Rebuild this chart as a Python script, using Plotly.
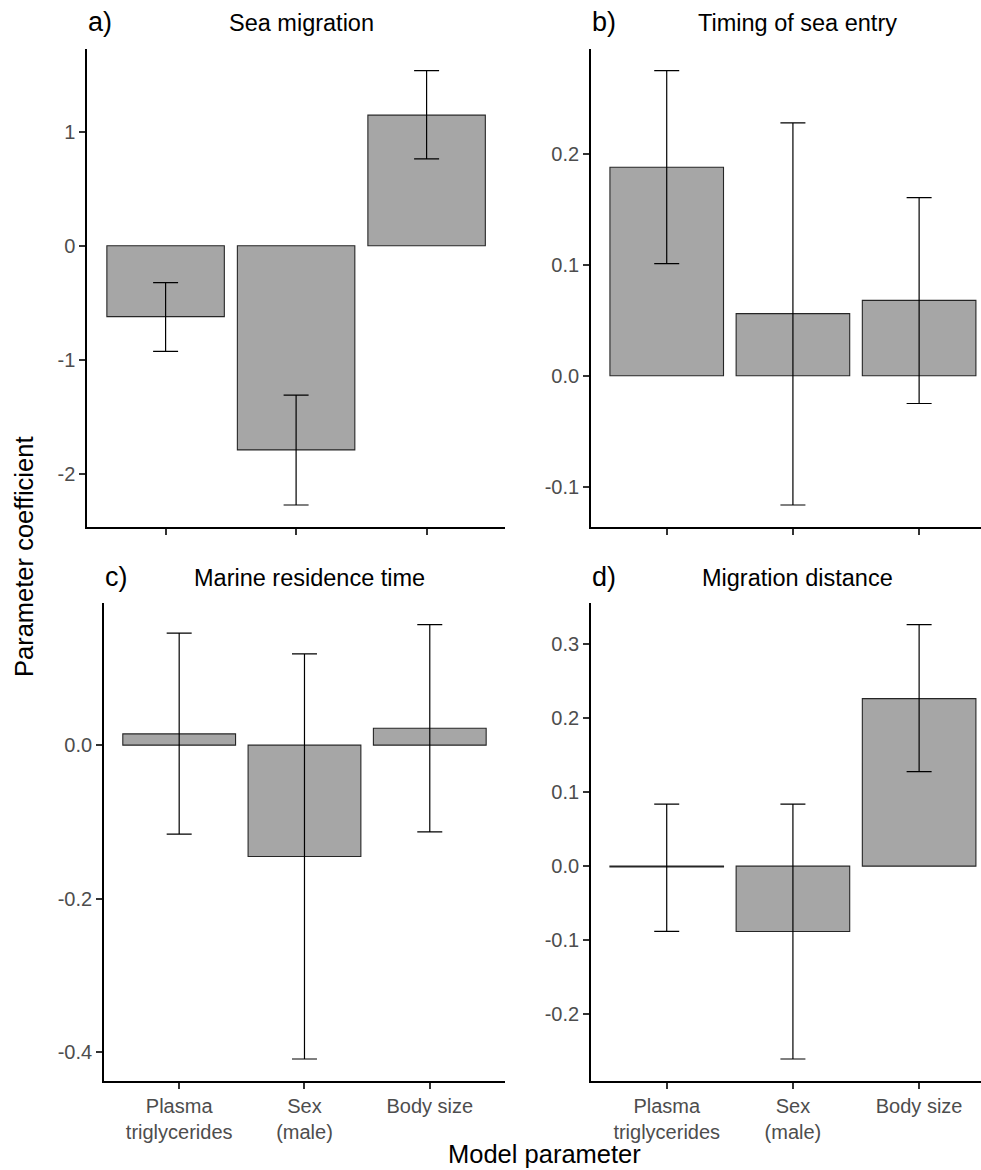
import plotly.graph_objects as go

# ---------------- data ----------------
params = ["Plasma<br>triglycerides", "Sex<br>(male)", "Body size"]

panel_tags = ["a)", "b)", "c)", "d)"]
panel_titles = ["Sea migration", "Timing of sea entry", "Marine residence time", "Migration distance"]

# a) Sea migration
a_est = [-0.620, -1.786, 1.143]
a_lo = [-0.923, -2.268, 0.760]
a_hi = [-0.323, -1.306, 1.532]

# b) Timing of sea entry
b_est = [0.188, 0.056, 0.068]
b_lo = [0.101, -0.1165, -0.025]
b_hi = [0.275, 0.228, 0.1605]

# c) Marine residence time
c_est = [0.0147, -0.145, 0.022]
c_lo = [-0.116, -0.409, -0.113]
c_hi = [0.146, 0.119, 0.157]

# d) Migration distance
d_est = [-0.001, -0.088, 0.226]
d_lo = [-0.088, -0.260, 0.1275]
d_hi = [0.0836, 0.0836, 0.3256]

a_ticks = [-2, -1, 0, 1]
a_ticktext = ["-2", "-1", "0", "1"]
b_ticks = [-0.1, 0.0, 0.1, 0.2]
b_ticktext = ["-0.1", "0.0", "0.1", "0.2"]
c_ticks = [-0.4, -0.2, 0.0]
c_ticktext = ["-0.4", "-0.2", "0.0"]
d_ticks = [-0.2, -0.1, 0.0, 0.1, 0.2, 0.3]
d_ticktext = ["-0.2", "-0.1", "0.0", "0.1", "0.2", "0.3"]

x_title = "Model parameter"
y_title = "Parameter coefficient"

# ---------------- layout geometry (pixels) ----------------
W, H = 981, 1170
FONT = "Liberation Sans, Arial, sans-serif"
BAR_FILL = "#A6A6A6"
BAR_LINE = "#262626"
TICK_TXT = "#4D4D4D"

# (left, right, top, bottom) px of each panel; right edge of b/d is cut at figure edge
panels_px = [
    (87.3, 505.0, 49.0, 526.7),
    (591.0, 981.0, 49.0, 526.7),
    (104.0, 505.0, 603.0, 1080.7),
    (591.0, 981.0, 603.0, 1080.7),
]
# category spacing in px for each panel (ggplot discrete axis: 0.6 expansion)
spacing_px = [130.5, 126.2, 125.3, 126.2]

series = [
    (a_est, a_lo, a_hi, a_ticks, a_ticktext),
    (b_est, b_lo, b_hi, b_ticks, b_ticktext),
    (c_est, c_lo, c_hi, c_ticks, c_ticktext),
    (d_est, d_lo, d_hi, d_ticks, d_ticktext),
]

fig = go.Figure()
layout = dict(
    width=W, height=H,
    margin=dict(l=0, r=0, t=0, b=0),
    paper_bgcolor="white", plot_bgcolor="white",
    showlegend=False,
    font=dict(family=FONT, color="black"),
    annotations=[],
)

for i, ((est, lo, hi, yt, ytt), (l, r, t, b), sp) in enumerate(zip(series, panels_px, spacing_px)):
    n = i + 1
    xa = "x" if n == 1 else f"x{n}"
    ya = "y" if n == 1 else f"y{n}"
    err_plus = [h - e for h, e in zip(hi, est)]
    err_minus = [e - lo_ for e, lo_ in zip(est, lo)]
    fig.add_trace(go.Bar(
        x=params, y=est, width=0.9,
        marker=dict(color=BAR_FILL, line=dict(color=BAR_LINE, width=1.1)),
        error_y=dict(type="data", array=err_plus, arrayminus=err_minus,
                     symmetric=False, color="black", thickness=1.2, width=12.5),
        xaxis=xa, yaxis=ya, hoverinfo="skip",
    ))
    # ggplot-like continuous expansion (5%) of the data extent
    vmin = min(min(lo), min(est), 0)
    vmax = max(max(hi), max(est), 0)
    pad = 0.05 * (vmax - vmin)
    yr = [vmin - pad, vmax + pad]
    xr = [-0.6, -0.6 + (r - l) / sp]
    bottom_row = n in (3, 4)
    xkey = "xaxis" if n == 1 else f"xaxis{n}"
    ykey = "yaxis" if n == 1 else f"yaxis{n}"
    layout[xkey] = dict(
        domain=[l / W, r / W], anchor=ya, range=xr, type="category",
        categoryorder="array", categoryarray=params,
        showline=True, linecolor="black", linewidth=1.8, mirror=False,
        ticks="outside", ticklen=6, tickwidth=1.5, tickcolor="#333333",
        showgrid=False, zeroline=False,
        showticklabels=bottom_row,
        tickfont=dict(family=FONT, size=20, color=TICK_TXT),
        fixedrange=True,
    )
    layout[ykey] = dict(
        domain=[1 - b / H, 1 - t / H], anchor=xa, range=yr,
        tickmode="array", tickvals=yt, ticktext=ytt,
        showline=True, linecolor="black", linewidth=1.8,
        ticks="outside", ticklen=6, tickwidth=1.5, tickcolor="#333333",
        showgrid=False, zeroline=False,
        tickfont=dict(family=FONT, size=20, color=TICK_TXT),
        fixedrange=True,
    )
    # tag
    tag_y = 22 if n in (1, 2) else 577
    layout["annotations"].append(dict(
        text=panel_tags[i], xref="paper", yref="paper",
        x=(l - 1) / W, y=1 - tag_y / H, xanchor="left", yanchor="middle",
        showarrow=False, font=dict(family=FONT, size=27, color="black"),
    ))
    # title centred over the full (uncut) panel width
    full_r = l + 3.2 * sp
    layout["annotations"].append(dict(
        text=panel_titles[i], xref="paper", yref="paper",
        x=((l + full_r) / 2 + 5) / W, y=1 - (tag_y + 1) / H, xanchor="center", yanchor="middle",
        showarrow=False, font=dict(family=FONT, size=23.5, color="black"),
    ))

layout["annotations"].append(dict(
    text=x_title, xref="paper", yref="paper", x=544 / W, y=1 - 1154 / H,
    xanchor="center", yanchor="middle", showarrow=False,
    font=dict(family=FONT, size=25.5, color="black"),
))
layout["annotations"].append(dict(
    text=y_title, xref="paper", yref="paper", x=24 / W, y=1 - 557 / H,
    xanchor="center", yanchor="middle", showarrow=False, textangle=-90,
    font=dict(family=FONT, size=25.5, color="black"),
))

fig.update_layout(**layout)
fig.write_html(
    "out.html",
    config={"displayModeBar": False},
    post_script="document.body.style.margin='0';document.body.style.padding='0';",
)
